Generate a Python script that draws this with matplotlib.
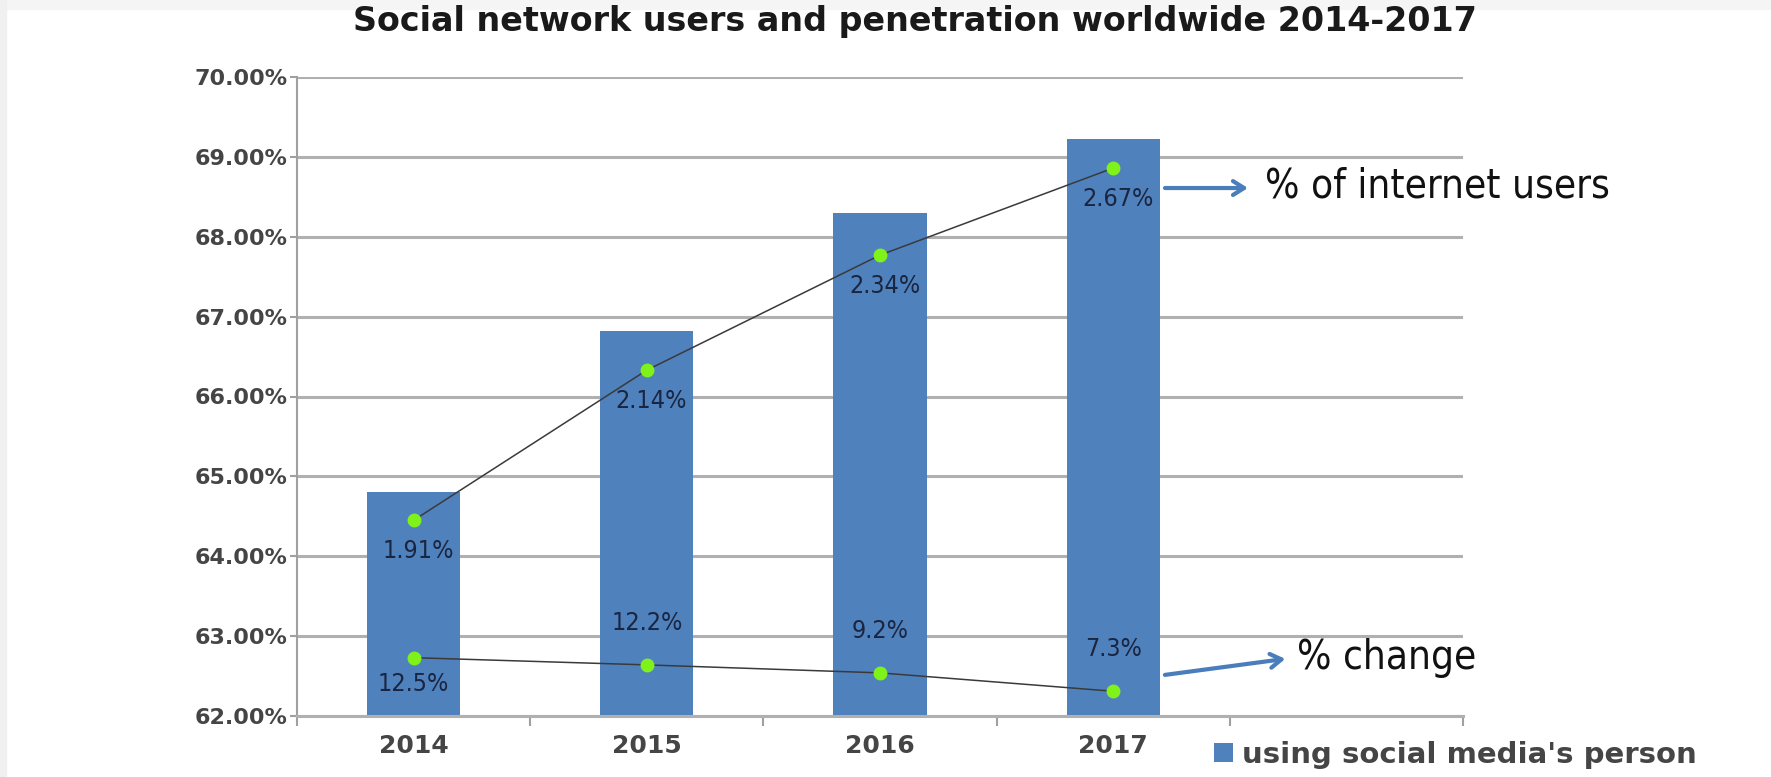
import matplotlib
matplotlib.use("Agg")
import matplotlib.pyplot as plt
from matplotlib.patches import Rectangle
import numpy as np

years = ["2014", "2015", "2016", "2017"]
social_users = [64.80, 66.82, 68.30, 69.22]          # bar heights (% axis)
internet_line = [64.45, 66.33, 67.77, 68.86]          # upper line points
internet_labels = ["1.91%", "2.14%", "2.34%", "2.67%"]
change_line = [62.73, 62.64, 62.54, 62.31]            # lower line points
change_labels = ["12.5%", "12.2%", "9.2%", "7.3%"]
yticks = [62, 63, 64, 65, 66, 67, 68, 69, 70]

W, H = 1771, 777
fig = plt.figure(figsize=(W / 100, H / 100), dpi=100)
fig.patch.set_facecolor("white")

# light frame strips
fig.patches.append(Rectangle((0, 1 - 9 / H), 1, 9 / H, transform=fig.transFigure,
                             color="#f5f5f5", zorder=0))
fig.patches.append(Rectangle((0, 0), 6 / W, 1, transform=fig.transFigure,
                             color="#f0f0f0", zorder=0))

left, right, top, bottom = 297, 1463, 77, 716
ax = fig.add_axes([left / W, 1 - bottom / H, (right - left) / W, (bottom - top) / H])

x = np.arange(len(years))
bar_color = "#4f81bd"
bars = ax.bar(x, [v - 62 for v in social_users], bottom=62, width=0.40,
              color=bar_color, zorder=2, label="using social media's person")

ax.plot(x, internet_line, color="#3a3a3a", lw=1.1, zorder=3)
ax.plot(x, internet_line, "o", color="#7ff21a", ms=9, mec="#7ff21a", zorder=4)
ax.plot(x, change_line, color="#3a3a3a", lw=1.1, zorder=3)
ax.plot(x, change_line, "o", color="#7ff21a", ms=9, mec="#7ff21a", zorder=4)

narrow = dict(family="DejaVu Sans", fontstretch="condensed")
lab_font = dict(fontsize=18, color="#1a2540", **narrow)
for xi, yi, t in zip(x, internet_line, internet_labels):
    ax.text(xi + 0.02, yi - 0.24, t, ha="center", va="top", zorder=5, **lab_font)
offs = [-0.18, 0.38, 0.38, 0.38]
for xi, yi, t, o in zip(x, change_line, change_labels, offs):
    ax.text(xi, yi + o, t, ha="center", va="top" if o < 0 else "bottom", zorder=5, **lab_font)

ax.set_xlim(-0.5, 4.5)
ax.set_ylim(62, 70)
ax.set_yticks(yticks)
ax.set_yticklabels([f"{v:.2f}%" for v in yticks])
ax.set_xticks(x)
ax.set_xticklabels(years)
ax.set_xticks(np.arange(-0.5, 5.0, 1.0), minor=True)
ax.tick_params(axis="x", which="major", length=0, pad=13)
ax.tick_params(axis="x", which="minor", length=7, width=1.5, color="#a0a0a0", direction="out")
ax.tick_params(axis="y", length=5, width=1.5, color="#a0a0a0", pad=2)
for lab in ax.get_yticklabels():
    lab.set_fontweight("bold")
    lab.set_fontsize(16)
    lab.set_color("#454545")
for lab in ax.get_xticklabels():
    lab.set_fontweight("bold")
    lab.set_fontsize(18)
    lab.set_color("#454545")

ax.grid(axis="y", color="#b0b0b0", lw=2.2, zorder=0)
ax.set_axisbelow(True)
for s in ["top", "right"]:
    ax.spines[s].set_visible(False)
ax.spines["left"].set_color("#a0a0a0")
ax.spines["left"].set_linewidth(1.5)
ax.spines["bottom"].set_color("#b0b0b0")
ax.spines["bottom"].set_linewidth(2.2)

fig.text(915 / W, 1 - 22 / H, "Social network users and penetration worldwide 2014-2017",
         ha="center", va="center", fontsize=24, fontweight="bold", color="#1a1a1a")

arrow_color = "#4a7ebb"
ax.annotate("", xy=(3.59, 68.61), xytext=(3.21, 68.61),
            arrowprops=dict(arrowstyle="->,head_length=0.8,head_width=0.5",
                            color=arrow_color, lw=3))
ax.text(3.65, 68.63, "% of internet users", ha="left", va="center", fontsize=29,
        color="#111111", **narrow)
ax.annotate("", xy=(3.75, 62.72), xytext=(3.21, 62.51),
            arrowprops=dict(arrowstyle="->,head_length=0.8,head_width=0.5",
                            color=arrow_color, lw=3))
ax.text(3.79, 62.72, "% change", ha="left", va="center", fontsize=29,
        color="#111111", **narrow)

leg = ax.legend(handles=[bars], loc="center left", bbox_to_anchor=(1214 / W, 1 - 755 / H),
                bbox_transform=fig.transFigure, frameon=False, handlelength=0.65,
                handleheight=0.65, handletextpad=0.3, borderpad=0, borderaxespad=0,
                prop=dict(size=21, weight="bold"))
for t in leg.get_texts():
    t.set_color("#454545")

fig.savefig("out.png", dpi=100, facecolor="white")
